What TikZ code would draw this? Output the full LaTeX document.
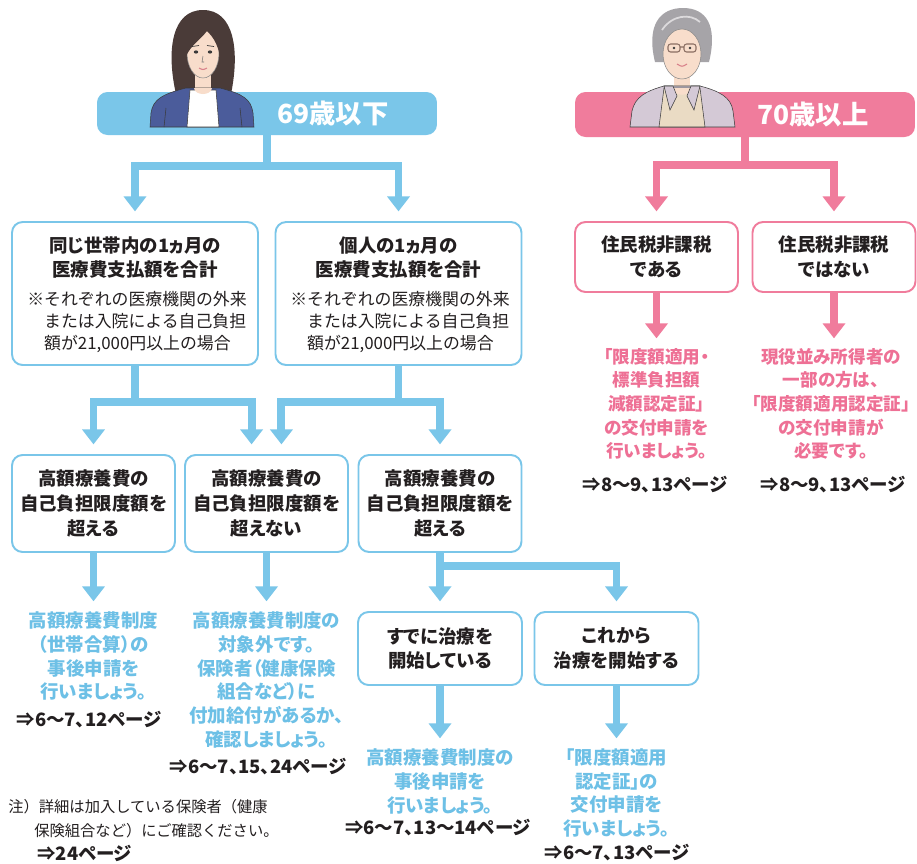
\documentclass[tikz,border=0pt]{standalone}
\usepackage{fontspec}
\setmainfont{Noto Sans CJK JP}[RawFeature={+palt}]
\newfontfamily\plainjp{Noto Sans CJK JP}
\usetikzlibrary{arrows.meta}

\definecolor{skyb}{HTML}{7AC6E9}
\definecolor{rose}{HTML}{F07C9C}
\definecolor{skytext}{HTML}{6DC0E6}
\definecolor{rosetext}{HTML}{EE7095}
\definecolor{ink}{HTML}{231F20}
\definecolor{skin}{HTML}{F8DDCB}
\definecolor{hairdk}{HTML}{4A3B38}
\definecolor{cardigan}{HTML}{4B5C9B}
\definecolor{outline}{HTML}{3A3A3A}
\definecolor{mouthc}{HTML}{D9808A}
\definecolor{hairgy}{HTML}{A6A4A8}
\definecolor{hairlt}{HTML}{DCDADC}
\definecolor{vest}{HTML}{D4C9D6}
\definecolor{shirtbg}{HTML}{EADBC4}
\definecolor{glassc}{HTML}{8A6E62}

\begin{document}
\begin{tikzpicture}[x=0.02cm, y=-0.02cm,
    flowbox/.style={draw=skyb, line width=1.1pt, rounded corners=6pt, fill=white,
        inner sep=0pt, align=center, text=ink,
        font=\bfseries\fontsize{10.5}{14}\selectfont},
    pinkbox/.style={flowbox, draw=rose},
    headbar/.style={fill=skyb, rounded corners=6pt, minimum width=6.8cm, minimum height=0.86cm},
    headtext/.style={text=white, inner sep=0pt, font=\bfseries\fontsize{15}{18}\selectfont},
    blueflow/.style={draw=skyb, line width=4.5pt, shorten >=5.5pt,
        -{Triangle[width=12.5pt, length=8.5pt]}},
    pinkflow/.style={blueflow, draw=rose},
    bluenote/.style={anchor=north, inner sep=0pt, align=center, text=skytext,
        font=\bfseries\fontsize{10.5}{13.6}\selectfont},
    pinknote/.style={bluenote, text=rosetext, font=\bfseries\fontsize{10}{13.4}\selectfont},
    pageref/.style={inner sep=0pt, text=ink, font=\bfseries\fontsize{10.5}{13}\selectfont},
    fineprint/.style={anchor=north west, inner sep=0pt, align=left, text=ink,
        font=\plainjp\fontsize{9.6}{12.5}\selectfont}
]
\useasboundingbox[fill=white] (0,0) rectangle (917,863);

% Age headers
\node[headbar] (young) at (267,113.5) {};
\node[headbar, fill=rose, minimum height=0.9cm] (old) at (745,114.5) {};

% Younger woman
\fill[hairdk] (176,94) .. controls (166,50) and (172,10) .. (203,10) .. controls (234,10) and (240,50) .. (231,94) .. controls (222,98) and (184,98) .. (176,94) -- cycle;
\fill[skin] (195,70) rectangle (211,98);
\fill[skin, draw=outline!60, line width=0.3pt] (203,53) ellipse (16 and 25);
\fill[hairdk] (186,56) .. controls (183,30) and (195,18) .. (206,18) .. controls (220,18) and (224,34) .. (220,56) .. controls (217,42) and (212,36) .. (207,31) .. controls (200,40) and (192,44) .. (186,56) -- cycle;
\fill[outline] (196,52) ellipse (2.2 and 1.6);
\fill[outline] (210,52) ellipse (2.2 and 1.6);
\draw[outline, line width=0.4pt] (192,46.5) -- (199,45.5) (207,45.5) -- (214,46.5);
\draw[outline!70, line width=0.3pt] (203,56) -- (202,62) -- (204,62);
\draw[mouthc, line width=0.6pt] (199,68) .. controls (203,70) .. (207,68);
\fill[cardigan, draw=outline, line width=0.3pt] (150,127) -- (151,113) .. controls (153,99) and (163,94) .. (186,88) -- (220,88) .. controls (243,94) and (251,99) .. (253,113) -- (254,127) -- cycle;
\fill[white, draw=outline, line width=0.3pt] (190,90) -- (216,90) -- (219,127) -- (187,127) -- cycle;
\fill[skin] (194,88) -- (212,88) .. controls (211,96) and (195,96) .. (194,88) -- cycle;
\draw[outline, line width=0.3pt] (166,108) -- (164,127) (240,108) -- (242,127);

% Older woman
\fill[hairgy] (655,62) .. controls (646,25) and (660,8) .. (683,8) .. controls (706,8) and (718,25) .. (709,62) -- cycle;
\fill[skin] (674,70) rectangle (690,92);
\fill[skin, draw=outline!60, line width=0.3pt] (682,54) ellipse (19 and 25);
\fill[hairgy] (662,46) .. controls (660,22) and (675,16) .. (685,17) .. controls (700,17) and (706,28) .. (703,44) .. controls (698,32) and (690,28) .. (682,27) .. controls (672,30) and (665,36) .. (662,46) -- cycle;
\draw[hairlt, line width=1pt] (662,30) .. controls (672,15) and (690,13) .. (700,22);
\draw[glassc, line width=0.6pt, rounded corners=1.5pt] (668,44) rectangle (680,52) (684,44) rectangle (696,52) (680,47) -- (684,47);
\fill[outline] (674,48) circle (1.3) (690,48) circle (1.3);
\draw[mouthc, line width=0.6pt] (677,64) .. controls (682,67) .. (687,64);
\fill[vest, draw=outline, line width=0.3pt] (630,127) -- (632,111) .. controls (635,97) and (646,91) .. (664,86) -- (700,86) .. controls (719,91) and (731,97) .. (733,111) -- (735,127) -- cycle;
\fill[shirtbg, draw=outline, line width=0.3pt] (664,88) -- (700,88) -- (705,127) -- (659,127) -- cycle;
\fill[skin] (672,88) -- (692,88) .. controls (690,97) and (674,97) .. (672,88) -- cycle;
\fill[vest, draw=outline, line width=0.3pt] (664,86) -- (670,110) -- (677,96) -- (673,86) -- cycle;
\fill[vest, draw=outline, line width=0.3pt] (700,86) -- (694,110) -- (687,96) -- (691,86) -- cycle;

\node[headtext] (youngtxt) at (333,113) {69歳以下};
\node[headtext] (oldtxt) at (813,114) {70歳以上};

% First row
\node[flowbox, minimum width=4.92cm, minimum height=2.86cm] (boxA) at (135,293.5) {};
\node[flowbox, minimum width=4.92cm, minimum height=2.86cm] (boxB) at (398.5,293.5) {};
\node[flowbox, draw=none, fill=none] (titleA) at (135,257.5) {同じ世帯内の1ヵ月の\\医療費支払額を合計};
\node[flowbox, draw=none, fill=none] (titleB) at (398.5,257.5) {個人の1ヵ月の\\医療費支払額を合計};
\node[fineprint] (noteA) at (27,291) {※それぞれの医療機関の外来\\\hspace*{1em}または入院による自己負担\\\hspace*{1em}額が21,000円以上の場合};
\node[fineprint] (noteB) at (290,291) {※それぞれの医療機関の外来\\\hspace*{1em}または入院による自己負担\\\hspace*{1em}額が21,000円以上の場合};
\node[pinkbox, minimum width=3.26cm, minimum height=1.40cm] (boxC) at (656.5,257) {住民税非課税\\である};
\node[pinkbox, minimum width=3.26cm, minimum height=1.40cm] (boxD) at (834,257) {住民税非課税\\ではない};

% Second row
\node[flowbox, minimum width=3.26cm, minimum height=1.94cm] (boxE) at (93.5,503.5) {高額療養費の\\自己負担限度額を\\超える};
\node[flowbox, minimum width=3.26cm, minimum height=1.94cm] (boxF) at (266.5,503.5) {高額療養費の\\自己負担限度額を\\超えない};
\node[flowbox, minimum width=3.26cm, minimum height=1.94cm] (boxG) at (440,503.5) {高額療養費の\\自己負担限度額を\\超える};

% Third row
\node[flowbox, minimum width=3.28cm, minimum height=1.46cm] (boxH) at (440,648.5) {すでに治療を\\開始している};
\node[flowbox, minimum width=3.28cm, minimum height=1.46cm] (boxI) at (616.5,648.5) {これから\\治療を開始する};

% Outcomes
\node[pinknote] (outC) at (656.5,348) {「限度額適用・\\標準負担額\\減額認定証」\\の交付申請を\\行いましょう。};
\node[pinknote] (outD) at (831,348) {現役並み所得者の\\一部の方は、\\「限度額適用認定証」\\の交付申請が\\必要です。};
\node[bluenote] (outE) at (93.5,611) {高額療養費制度\\（世帯合算）の\\事後申請を\\行いましょう。};
\node[bluenote] (outF) at (266.5,611) {高額療養費制度の\\対象外です。\\保険者（健康保険\\組合など）に\\付加給付があるか、\\確認しましょう。};
\node[bluenote] (outH) at (440,748) {高額療養費制度の\\事後申請を\\行いましょう。};
\node[bluenote] (outI) at (616.5,748) {「限度額適用\\認定証」の\\交付申請を\\行いましょう。};

% Page references
\node[pageref] (refC) at (655,485) {⇒8〜9、13ページ};
\node[pageref] (refD) at (833,485) {⇒8〜9、13ページ};
\node[pageref] (refE) at (89,720) {⇒6〜7、12ページ};
\node[pageref] (refF) at (258,767) {⇒6〜7、15、24ページ};
\node[pageref] (refH) at (438,828) {⇒6〜7、13〜14ページ};
\node[pageref] (refI) at (617,853) {⇒6〜7、13ページ};

% Footnote
\node[fineprint, font=\plainjp\fontsize{8.7}{13.6}\selectfont] (footnote) at (8,799) {注）詳細は加入している保険者（健康\\\hspace*{1.7em}保険組合など）にご確認ください。};
\node[pageref, anchor=west] (refnote) at (37,853) {⇒24ページ};

% Connectors
\draw[blueflow] (young.south) -- ++(0,31) -| (boxA.north);
\draw[blueflow] (young.south) -- ++(0,31) -| (boxB.north);
\draw[pinkflow] (old.south) -- ++(0,28) -| (boxC.north);
\draw[pinkflow] (old.south) -- ++(0,28) -| (boxD.north);
\draw[pinkflow] (boxC.south) -- (boxC.south |- outC.north);
\draw[pinkflow] (boxD.south) -- (boxD.south |- outD.north);
\draw[blueflow] (boxA.south) -- ++(0,36) -| (boxE.north);
\draw[blueflow] (boxA.south) -- ++(0,36) -| ([xshift=-8.5pt]boxF.north);
\draw[blueflow] (boxB.south) -- ++(0,36) -| ([xshift=8.5pt]boxF.north);
\draw[blueflow] (boxB.south) -- ++(0,36) -| (boxG.north);
\draw[blueflow] (boxE.south) -- (boxE.south |- outE.north);
\draw[blueflow] (boxF.south) -- (boxF.south |- outF.north);
\draw[blueflow] (boxG.south) -- ++(0,13) -| (boxH.north);
\draw[blueflow] (boxG.south) -- ++(0,13) -| (boxI.north);
\draw[blueflow] (boxH.south) -- (boxH.south |- outH.north);
\draw[blueflow] (boxI.south) -- (boxI.south |- outI.north);
\end{tikzpicture}
\end{document}
